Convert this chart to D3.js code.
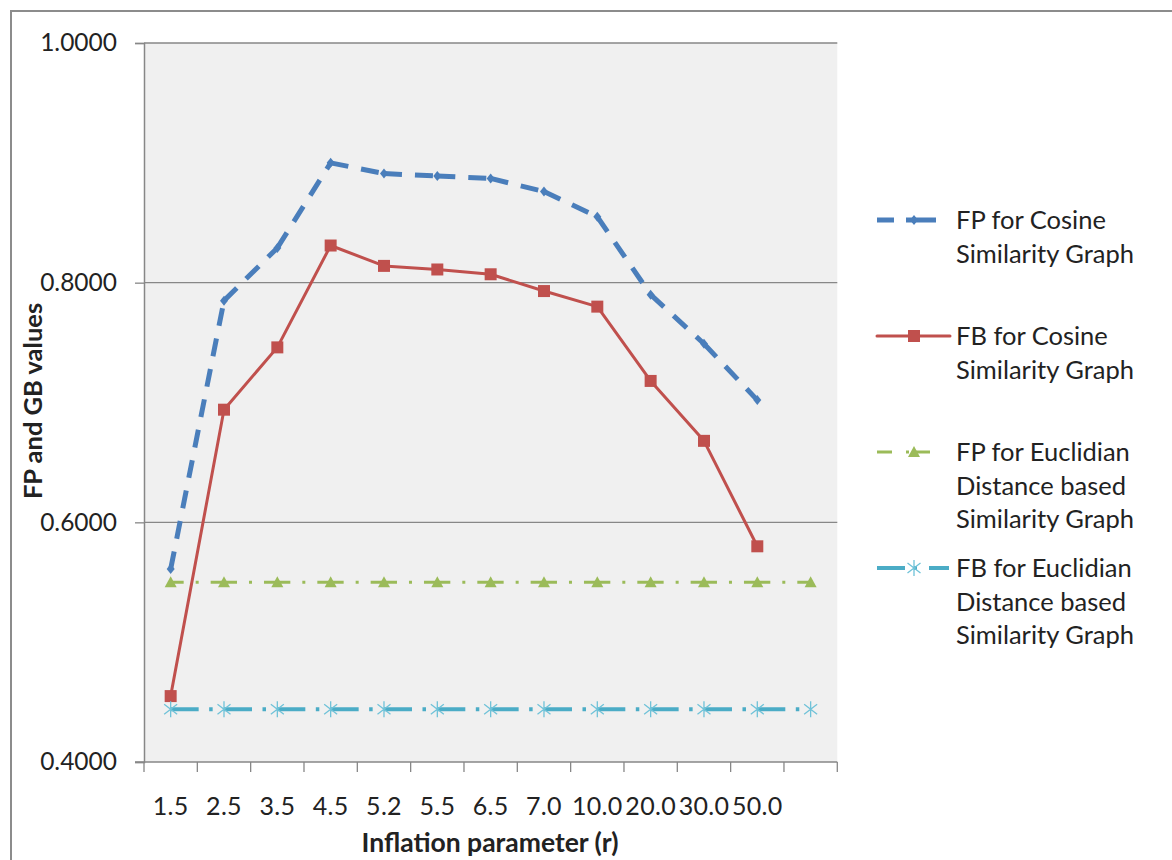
<!DOCTYPE html>
<html>
<head>
<meta charset="utf-8">
<script src="https://cdn.jsdelivr.net/npm/d3@7"></script>
<style>
  html, body { margin: 0; padding: 0; background: #ffffff; }
  svg { display: block; font-family: Lato, "Open Sans", sans-serif; }
</style>
</head>
<body>
<svg id="chart" width="1172" height="860"></svg>
<script>
// ---- data ----
const categories = ["1.5", "2.5", "3.5", "4.5", "5.2", "5.5", "6.5", "7.0", "10.0", "20.0", "30.0", "50.0", ""];
const fpCosine = [0.561, 0.785, 0.829, 0.900, 0.891, 0.889, 0.887, 0.876, 0.855, 0.790, 0.749, 0.702];
const fbCosine = [0.455, 0.694, 0.746, 0.831, 0.814, 0.811, 0.807, 0.793, 0.780, 0.718, 0.668, 0.580];
const fpEuclid = [0.55, 0.55, 0.55, 0.55, 0.55, 0.55, 0.55, 0.55, 0.55, 0.55, 0.55, 0.55, 0.55];
const fbEuclid = [0.444, 0.444, 0.444, 0.444, 0.444, 0.444, 0.444, 0.444, 0.444, 0.444, 0.444, 0.444, 0.444];
const yTicks = [0.4, 0.6, 0.8, 1.0];
const seriesNames = [
  ["FP for Cosine", "Similarity Graph"],
  ["FB for Cosine", "Similarity Graph"],
  ["FP for Euclidian", "Distance based", "Similarity Graph"],
  ["FB for Euclidian", "Distance based", "Similarity Graph"]
];
const xTitle = "Inflation parameter (r)";
const yTitle = "FP and GB values";

// ---- layout ----
const svg = d3.select("#chart");
const plot = { left: 144, right: 837.3, top: 43, bottom: 762 };
const textColor = "#222222";
const axisColor = "#878787";

const x = d3.scaleBand().domain(d3.range(categories.length)).range([plot.left, plot.right]).padding(0);
const cx = i => x(i) + x.bandwidth() / 2;
const y = d3.scaleLinear().domain([0.4, 1.0]).range([plot.bottom, plot.top]);

// outer chart border
svg.append("rect").attr("x", 11).attr("y", 11).attr("width", 1300).attr("height", 1000)
  .attr("fill", "none").attr("stroke", "#8c8c8c").attr("stroke-width", 2);

// plot background
svg.append("rect").attr("x", plot.left).attr("y", plot.top)
  .attr("width", plot.right - plot.left).attr("height", plot.bottom - plot.top)
  .attr("fill", "#f0f0f0");

// gridlines
svg.append("g").selectAll("line").data(yTicks.filter(d => d > 0.4)).join("line")
  .attr("x1", plot.left).attr("x2", plot.right)
  .attr("y1", d => y(d)).attr("y2", d => y(d))
  .attr("stroke", axisColor).attr("stroke-width", 1.3);

// y axis
const yAxis = svg.append("g").attr("transform", `translate(${plot.left},0)`)
  .call(d3.axisLeft(y).tickValues(yTicks).tickFormat(d3.format(".4f")).tickSize(9).tickPadding(18));
yAxis.select(".domain").attr("stroke", axisColor).attr("stroke-width", 1.5);
yAxis.selectAll(".tick line").attr("stroke", axisColor).attr("stroke-width", 1.3);
yAxis.selectAll(".tick text").attr("font-size", 24.5).attr("fill", textColor)
  .attr("font-family", "Lato, sans-serif");

// x axis labels
const xAxis = svg.append("g").attr("transform", `translate(0,${plot.bottom})`)
  .call(d3.axisBottom(x).tickSize(0).tickPadding(35).tickFormat(i => categories[i]));
xAxis.select(".domain").remove();
xAxis.selectAll(".tick text").attr("font-size", 25).attr("fill", textColor)
  .attr("font-family", "Lato, sans-serif").attr("letter-spacing", 0.3);
// x axis line and boundary ticks
svg.append("line").attr("x1", plot.left - 9).attr("x2", plot.right)
  .attr("y1", plot.bottom).attr("y2", plot.bottom)
  .attr("stroke", axisColor).attr("stroke-width", 1.5);
const bounds = d3.range(categories.length + 1).map(i => i < categories.length ? x(i) : plot.right);
svg.append("g").selectAll("line").data(bounds).join("line")
  .attr("x1", d => d).attr("x2", d => d)
  .attr("y1", plot.bottom).attr("y2", plot.bottom + 10)
  .attr("stroke", axisColor).attr("stroke-width", 1.3);

// axis titles
svg.append("text").attr("x", 490).attr("y", 852)
  .attr("text-anchor", "middle").attr("font-size", 26.5).attr("font-weight", "bold")
  .attr("fill", textColor).text(xTitle);
svg.append("text").attr("transform", "translate(42,401) rotate(-90)")
  .attr("text-anchor", "middle").attr("font-size", 25.5).attr("font-weight", "bold")
  .attr("fill", textColor).text(yTitle);

// ---- series ----
const styles = [
  { color: "#4a7ebb", width: 5, dash: "18,13", cap: "butt", marker: "diamond" },
  { color: "#c0504d", width: 3, dash: null, cap: "round", marker: "square" },
  { color: "#9bbb59", width: 3.2, dash: "13,12,3,12,13,20", cap: "butt", marker: "triangle" },
  { color: "#4bacc6", width: 3.8, dash: "28,10.5,3.5,11.3", cap: "butt", marker: "star" }
];
const allSeries = [fpCosine, fbCosine, fpEuclid, fbEuclid];

function markerPath(type) {
  if (type === "diamond") return "M0,-5L4,0L0,5L-4,0Z";
  if (type === "square") return "M-6,-6H6V6H-6Z";
  if (type === "triangle") return "M0,-6L6,5H-6Z";
  if (type === "star") return "M0,-8V8M-6.5,-5L6.5,5M6.5,-5L-6.5,5";
  return "";
}
function drawMarker(g, type, color, px, py) {
  const p = g.append("path").attr("d", markerPath(type))
    .attr("transform", `translate(${px},${py})`);
  if (type === "star") p.attr("fill", "none").attr("stroke", "#6fc2d8").attr("stroke-width", 1.3);
  else p.attr("fill", color).attr("stroke", "none");
}

const line = d3.line().x(d => cx(d.i)).y(d => y(d.v));

allSeries.forEach((vals, s) => {
  const st = styles[s];
  const g = svg.append("g");
  const pts = vals.map((v, i) => ({ i, v }));
  if (st.dash) {
    // dash pattern restarts on every segment
    for (let k = 0; k < pts.length - 1; k++) {
      g.append("path").attr("d", line([pts[k], pts[k + 1]]))
        .attr("fill", "none").attr("stroke", st.color).attr("stroke-width", st.width)
        .attr("stroke-dasharray", st.dash).attr("stroke-linecap", st.cap);
    }
  } else {
    g.append("path").attr("d", line(pts))
      .attr("fill", "none").attr("stroke", st.color).attr("stroke-width", st.width)
      .attr("stroke-linejoin", "round").attr("stroke-linecap", st.cap);
  }
  pts.forEach(p => drawMarker(g, st.marker, st.color, cx(p.i), y(p.v)));
});

// ---- legend ----
const legendY = [220, 336, 452, 568];
const legend = svg.append("g");
seriesNames.forEach((lines, s) => {
  const st = styles[s];
  const ly = legendY[s];
  legend.append("line").attr("x1", 877).attr("x2", 950).attr("y1", ly).attr("y2", ly)
    .attr("stroke", st.color).attr("stroke-width", st.width)
    .attr("stroke-dasharray", st.dash ? (s === 0 ? "17,12,30,20" : s === 2 ? "15,14,3,5,16,50" : "28,9,3,12,20") : null)
    .attr("stroke-linecap", st.cap);
  drawMarker(legend, st.marker, st.color, 914, ly);
  lines.forEach((t, k) => {
    legend.append("text").attr("x", 956).attr("y", ly + 9 + k * 33.5)
      .attr("font-size", 25.5).attr("fill", textColor).text(t);
  });
});
</script>
</body>
</html>
